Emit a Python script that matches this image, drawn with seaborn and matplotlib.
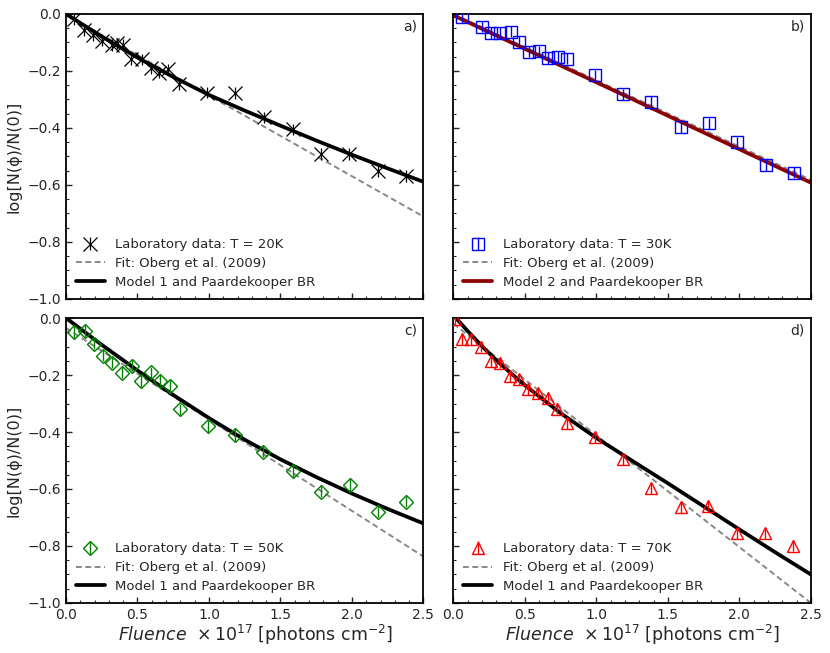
import matplotlib
matplotlib.use('Agg')
from matplotlib import pyplot as plt
from matplotlib.ticker import MultipleLocator
import seaborn as sns

# laboratory points
a_x = [0.056, 0.126, 0.187, 0.254, 0.32, 0.359, 0.401, 0.453, 0.53, 0.593, 0.653, 0.716, 0.791,
       0.985, 1.183, 1.382, 1.585, 1.783, 1.982, 2.18, 2.381]
a_y = [-0.019, -0.056, -0.074, -0.094, -0.109, -0.103, -0.109, -0.159, -0.159, -0.191, -0.206, -0.194, -0.246,
       -0.276, -0.278, -0.363, -0.405, -0.492, -0.492, -0.551, -0.568]

b_x = [0.058, 0.2, 0.262, 0.325, 0.40, 0.46, 0.53, 0.595, 0.66, 0.73, 0.797,
       0.99, 1.184, 1.385, 1.588, 1.786, 1.985, 2.183, 2.381]
b_y = [-0.01, -0.045, -0.067, -0.067, -0.062, -0.097, -0.132, -0.131, -0.155, -0.15, -0.157,
       -0.215, -0.282, -0.308, -0.398, -0.384, -0.45, -0.53, -0.557]

c_x = [0.056, 0.133, 0.193, 0.258, 0.323, 0.393, 0.462, 0.528, 0.594, 0.658, 0.726, 0.794,
       0.99, 1.18, 1.381, 1.587, 1.784, 1.985, 2.183, 2.381]
c_y = [-0.049, -0.045, -0.09, -0.132, -0.157, -0.192, -0.167, -0.221, -0.191, -0.22, -0.238, -0.32,
       -0.379, -0.41, -0.469, -0.537, -0.609, -0.586, -0.679, -0.644]

d_x = [0.014, 0.061, 0.126, 0.19, 0.26, 0.324, 0.393, 0.457, 0.522, 0.592, 0.659, 0.726, 0.796,
       0.987, 1.184, 1.385, 1.588, 1.782, 1.98, 2.177, 2.378]
d_y = [-0.002, -0.073, -0.075, -0.1, -0.152, -0.157, -0.203, -0.215, -0.249, -0.264, -0.28, -0.318, -0.368,
       -0.417, -0.496, -0.598, -0.664, -0.66, -0.756, -0.756, -0.799]

y_err = 0.02

# Oberg et al. (2009) fits (straight lines)
fit_x = [0.0, 2.5]
a_fit = [-0.003, -0.711]
b_fit = [0.0, -0.582]
c_fit = [-0.035, -0.837]
d_fit = [-0.02, -1.0]

# model curves, sampled from the figure
model_x = [0.0, 0.25, 0.5, 0.75, 1.0, 1.25, 1.5, 1.75, 2.0, 2.25, 2.5]
a_model = [0.0, -0.079, -0.153, -0.221, -0.284, -0.339, -0.392, -0.444, -0.494, -0.542, -0.589]
c_model = [0.0, -0.094, -0.184, -0.270, -0.351, -0.427, -0.496, -0.558, -0.616, -0.670, -0.721]
b_model_x = [0.0, 2.5]
b_model = [-0.005, -0.592]
d_model_x = [0.0, 0.1, 0.2, 0.3, 0.4, 0.5, 0.75, 1.0, 1.25, 1.5, 1.75, 2.0, 2.25, 2.5]
d_model = [0.01, -0.046, -0.099, -0.148, -0.193, -0.236, -0.334, -0.421, -0.501, -0.580, -0.661, -0.742, -0.822, -0.90]

sns.set_style("ticks")
plt.rcParams['font.family'] = ['DejaVu Sans']
plt.rcParams['mathtext.fontset'] = 'dejavusans'

fig, axes = plt.subplots(2, 2, figsize=(8.3, 6.53), dpi=100)
fig.subplots_adjust(left=0.0795, right=0.977, top=0.9786, bottom=0.0766, wspace=0.084, hspace=0.067)

panels = [
    (axes[0, 0], a_x, a_y, 'x', 'black', 'Laboratory data: T = 20K', a_fit,
     model_x, a_model, 'black', 'Model 1 and Paardekooper BR', 'a)'),
    (axes[0, 1], b_x, b_y, 's', 'blue', 'Laboratory data: T = 30K', b_fit,
     b_model_x, b_model, '#8b0000', 'Model 2 and Paardekooper BR', 'b)'),
    (axes[1, 0], c_x, c_y, 'D', 'green', 'Laboratory data: T = 50K', c_fit,
     model_x, c_model, 'black', 'Model 1 and Paardekooper BR', 'c)'),
    (axes[1, 1], d_x, d_y, '^', 'red', 'Laboratory data: T = 70K', d_fit,
     d_model_x, d_model, 'black', 'Model 1 and Paardekooper BR', 'd)'),
]

for i, (ax, px, py, mk, col, lab, fit, mx, my, mcol, mlab, tag) in enumerate(panels):
    sns.lineplot(x=fit_x, y=fit, ax=ax, color='#888888', linewidth=1.4, dashes=False,
                 sort=False, estimator=None, label='Fit: Oberg et al. (2009)', zorder=2)
    fit_line = ax.lines[-1]
    fit_line.set_dashes((3.0, 1.8))
    sns.lineplot(x=mx, y=my, ax=ax, color=mcol, linewidth=2.7,
                 sort=False, estimator=None, label=mlab, zorder=2)
    model_line = ax.lines[-1]
    if mk == 'x':
        eb = ax.errorbar(px, py, yerr=y_err, fmt=mk, color=col, ms=10, mew=0.9,
                         elinewidth=0.9, capsize=0, label=lab, zorder=3)
    else:
        eb = ax.errorbar(px, py, yerr=y_err, fmt=mk, color=col, mfc='none', mec=col,
                         ms=9 if mk != 'D' else 7.5, mew=1.0,
                         elinewidth=1.0, capsize=0, label=lab, zorder=3)

    ax.set_xlim(0, 2.5)
    ax.set_ylim(-1.0, 0.0)
    ax.xaxis.set_major_locator(MultipleLocator(0.5))
    ax.xaxis.set_minor_locator(MultipleLocator(0.1))
    ax.yaxis.set_major_locator(MultipleLocator(0.2))
    ax.yaxis.set_minor_locator(MultipleLocator(0.05))
    ax.tick_params(which='both', direction='in', top=False, right=False, labelsize=10)
    ax.tick_params(which='major', length=4, width=1)
    ax.tick_params(which='minor', length=2, width=0.8)
    for s in ax.spines.values():
        s.set_linewidth(1.3)
        s.set_color('black')

    ax.legend(handles=[eb, fit_line, model_line], labels=[lab, 'Fit: Oberg et al. (2009)', mlab],
              loc='lower left', frameon=False, fontsize=9.5, numpoints=1,
              handlelength=2.2, labelspacing=0.45, borderaxespad=0.35)
    ax.text(0.983, 0.982, tag, transform=ax.transAxes, ha='right', va='top', fontsize=10)

    if i < 2:
        ax.tick_params(labelbottom=False)
        ax.set_xlabel('')
    else:
        ax.set_xlabel(r'$Fluence$  $\times\,10^{17}$ [photons cm$^{-2}$]', fontsize=12.5, labelpad=1)
        ax.xaxis.label.set_x(0.53)
    if i % 2 == 1:
        ax.tick_params(labelleft=False)
        ax.set_ylabel('')
    else:
        ax.set_ylabel('log[N(ϕ)/N(0)]', fontsize=11.5, labelpad=4)

fig.savefig('out.png', dpi=100)
